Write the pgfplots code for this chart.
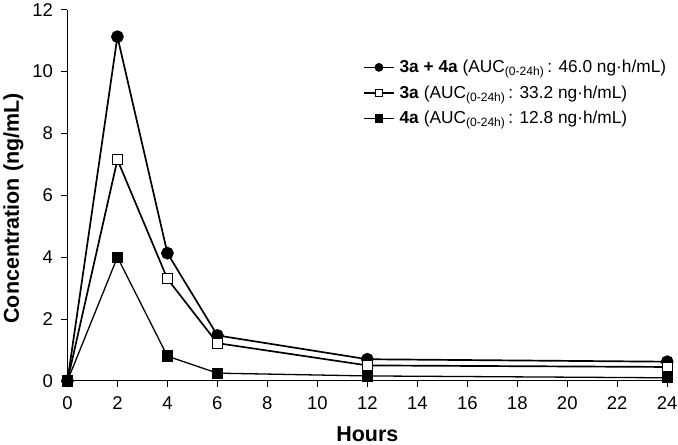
\documentclass[border=0pt]{standalone}
\usepackage{pgfplots}
\pgfplotsset{compat=1.18}
\usepackage{fontspec}
\setmainfont{Liberation Sans}
\begin{document}
\begin{tikzpicture}
\begin{axis}[
  scale only axis, width=598bp, height=370bp,
  xmin=0, xmax=24, ymin=0, ymax=12,
  clip=false,
  axis x line*=bottom, axis y line*=left,
  axis line style={black, line width=1.2pt, -},
  xtick={0,2,...,24}, ytick={0,2,...,12},
  tick align=outside, major tick length=6bp,
  tick style={black, line width=1pt},
  tick label style={font=\fontsize{18.5}{18.5}\selectfont},
  yticklabel style={xshift=-5bp},
  xticklabel style={yshift=-6bp, inner xsep=0.5bp},
  /pgf/number format/assume math mode=true,
  xlabel={Hours}, ylabel={Concentration (ng/mL)},
  label style={font=\fontsize{21.5}{21.5}\selectfont\bfseries},
  xlabel style={yshift=-10bp},
  ylabel style={yshift=2bp, xshift=-13bp},
  legend style={draw=none, fill=none, at={(rel axis cs:0.488,0.875)}, anchor=north west,
    font=\fontsize{17.3}{17.3}\selectfont, row sep=7.5bp,
    /tikz/every odd column/.append style={column sep=3bp}},
  legend cell align=left,
  legend image code/.code={\draw[mark repeat=2,mark phase=2, mark size=3.5pt] plot coordinates {(0cm,0cm)(0.52cm,0cm)(1.04cm,0cm)};},
]
\addplot[black, line width=1.7pt, mark=*, mark size=5.5pt, mark options={solid, fill=black}]
  coordinates {(0,0)(2,11.13)(4,4.13)(6,1.47)(12,0.70)(24,0.62)};
\addlegendentry{\textbf{3a + 4a} (AUC\textsubscript{(0-24h)}\,: 46.0 ng·h/mL)}
\addplot[black, line width=1.7pt, mark=square*, mark size=5pt, mark options={solid, fill=white, line width=1.2pt}]
  coordinates {(0,0)(2,7.15)(4,3.3)(6,1.22)(12,0.5)(24,0.45)};
\addlegendentry{\textbf{3a} (AUC\textsubscript{(0-24h)}\,: 33.2 ng·h/mL)}
\addplot[black, line width=1.3pt, mark=square*, mark size=5pt, mark options={solid, fill=black}]
  coordinates {(0,0)(2,4.0)(4,0.8)(6,0.25)(12,0.16)(24,0.1)};
\addlegendentry{\textbf{4a} (AUC\textsubscript{(0-24h)}\,: 12.8 ng·h/mL)}
\end{axis}
\end{tikzpicture}
\end{document}
